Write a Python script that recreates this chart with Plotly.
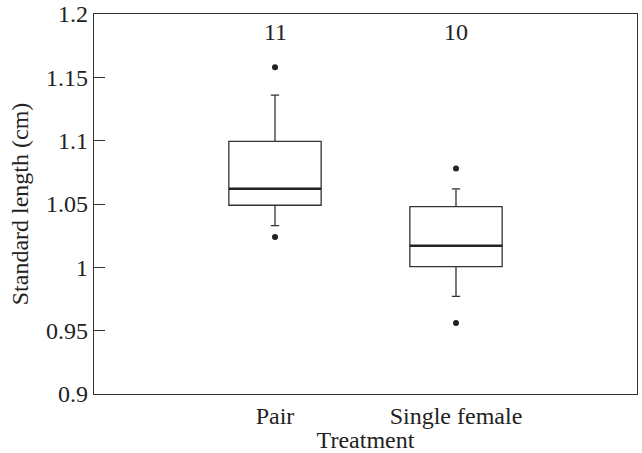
import plotly.graph_objects as go

categories = ["Pair", "Single female"]
counts = [11, 10]
q1 = [1.049, 1.0005]
median = [1.062, 1.017]
q3 = [1.0995, 1.048]
lower_whisker = [1.033, 0.977]
upper_whisker = [1.136, 1.062]
outliers_low = [1.024, 0.956]
outliers_high = [1.158, 1.078]
ytick_vals = [0.9, 0.95, 1.0, 1.05, 1.1, 1.15, 1.2]
ytick_text = ["0.9", "0.95", "1", "1.05", "1.1", "1.15", "1.2"]

FONT = "Liberation Serif"
FS = 24
pos = list(range(len(categories)))
BOXW = 0.51

fig = go.Figure()
fig.add_trace(go.Box(
    x=pos, q1=q1, median=median, q3=q3,
    lowerfence=lower_whisker, upperfence=upper_whisker,
    width=BOXW, whiskerwidth=0.09,
    fillcolor="white", line=dict(color="#333333", width=1.3),
    boxpoints=False, showlegend=False, hoverinfo="skip",
))
# thicker median lines
for p, m in zip(pos, median):
    fig.add_trace(go.Scatter(
        x=[p - BOXW / 2, p + BOXW / 2], y=[m, m], mode="lines",
        line=dict(color="#222222", width=2.6), showlegend=False, hoverinfo="skip",
    ))
# outliers
fig.add_trace(go.Scatter(
    x=pos + pos, y=outliers_low + outliers_high, mode="markers",
    marker=dict(color="#222222", size=6), showlegend=False, hoverinfo="skip",
))

for p, n in zip(pos, counts):
    fig.add_annotation(x=p, y=1.186, text=str(n), showarrow=False,
                       font=dict(family=FONT, size=FS, color="#222222"))

fig.update_layout(
    width=642, height=453,
    margin=dict(l=94, r=5, t=14, b=59),
    plot_bgcolor="white", paper_bgcolor="white",
    font=dict(family=FONT, size=FS, color="#222222"),
    xaxis=dict(
        range=[-1, 2], tickvals=pos, ticktext=categories,
        showgrid=False, zeroline=False, showline=True, mirror=True,
        linecolor="#333333", linewidth=1.3, ticks="", automargin=False,
        title=dict(text="Treatment", standoff=2, font=dict(size=FS)),
        tickfont=dict(size=FS), ticklabeloverflow="allow",
    ),
    yaxis=dict(
        range=[0.9, 1.2], tickvals=ytick_vals, ticktext=ytick_text,
        showgrid=False, zeroline=False, showline=True, mirror=True,
        linecolor="#333333", linewidth=1.3, ticks="inside", ticklen=11,
        tickcolor="#333333", tickwidth=1.3, automargin=False,
        title=dict(text="Standard length (cm)", standoff=10, font=dict(size=FS)),
        tickfont=dict(size=FS), ticklabeloverflow="allow",
    ),
)

# remove the default 8px page margin so the figure fills the window exactly
fig.write_html("out.html", config={"displayModeBar": False},
               post_script="document.body.style.margin='0';")
